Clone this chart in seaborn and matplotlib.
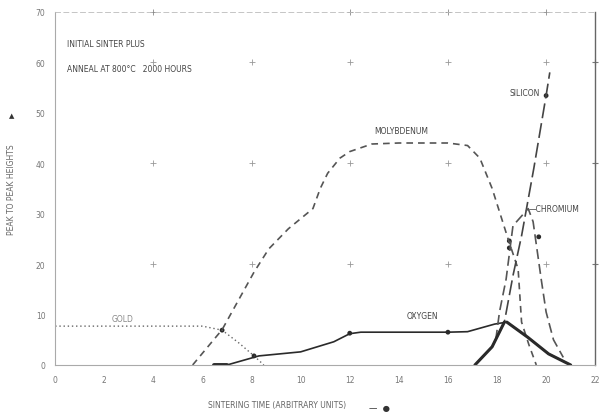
import numpy as np
import pandas as pd
import matplotlib
matplotlib.use("Agg")
import matplotlib.pyplot as plt
import seaborn as sns

# values
gold_x = [0, 2, 4, 6, 6.8, 7.5, 8.1, 8.5]
gold_y = [7.7, 7.7, 7.7, 7.7, 6.9, 4.3, 1.8, 0]

moly_x = [5.6, 6.8, 8.1, 8.7, 9.5, 9.9, 10.5, 10.8, 11.1, 11.6, 12.0, 12.9, 14, 15, 16,
          16.8, 17.3, 17.8, 18.45, 18.86, 19.0, 19.3, 19.6]
moly_y = [0, 7, 18.4, 23, 27, 28.6, 31, 35, 38, 41, 42.3, 43.8, 44, 44, 44,
          43.5, 41, 35, 25, 19, 8.5, 4, 0]

oxy_x = [6.45, 7.0, 8.3, 10, 11.35, 12.0, 12.45, 14, 16, 16.8, 17.9, 18.4, 19.25, 20.1, 21.0]
oxy_y = [0, 0, 1.8, 2.6, 4.6, 6.2, 6.5, 6.5, 6.5, 6.6, 8.1, 8.5, 5.5, 2.2, 0]

sil_x = [17.1, 17.8, 18.3, 18.65, 19.0, 19.5, 20.0, 20.15]
sil_y = [0, 3.6, 8.5, 17.7, 25.6, 39, 53.4, 58]

chrom_x = [17.95, 18.1, 18.37, 18.65, 19.27, 19.47, 19.8, 20.0, 20.3, 20.7]
chrom_y = [5, 10.5, 17, 27.6, 31, 28.4, 17, 10.5, 5, 1.5]

dots_x = [6.8, 8.1, 18.5, 18.5, 19.7, 20.0, 16, 12]
dots_y = [6.9, 1.8, 24.6, 23.2, 25.4, 53.4, 6.5, 6.3]

x_ticks = [0, 2, 4, 6, 8, 10, 12, 14, 16, 18, 20, 22]
y_ticks = [0, 10, 20, 30, 40, 50, 60, 70]

sns.set_theme(style="white")
plt.rcParams['font.family'] = ['DejaVu Sans']

fig = plt.figure(figsize=(6, 4.14), dpi=100)
ax = fig.add_axes([0.092, 0.116, 0.9, 0.853])

ink = "#2a2a2a"
sns.lineplot(x=gold_x, y=gold_y, ax=ax, color="#666666", lw=1.0, sort=False)
ax.lines[-1].set_dashes((1, 2))
sns.lineplot(x=moly_x, y=moly_y, ax=ax, color="#555555", lw=1.2, sort=False)
ax.lines[-1].set_dashes((4, 3))
sns.lineplot(x=oxy_x, y=oxy_y, ax=ax, color=ink, lw=1.2, sort=False)
sns.lineplot(x=sil_x, y=sil_y, ax=ax, color="#444444", lw=1.2, sort=False)
ax.lines[-1].set_dashes((9, 3))
sns.lineplot(x=chrom_x, y=chrom_y, ax=ax, color="#555555", lw=1.2, sort=False)
ax.lines[-1].set_dashes((6, 3))
# thick tail of oxygen and foot of silicon
sns.lineplot(x=oxy_x[-4:], y=oxy_y[-4:], ax=ax, color=ink, lw=2.2, sort=False)
sns.lineplot(x=sil_x[:3], y=sil_y[:3], ax=ax, color=ink, lw=2.2, sort=False)
sns.lineplot(x=oxy_x[:2], y=oxy_y[:2], ax=ax, color=ink, lw=2.8, sort=False)
sns.scatterplot(x=dots_x, y=dots_y, ax=ax, color=ink, s=12, edgecolor="none")

# faint grid crosses
gx, gy = np.meshgrid([4, 8, 12, 16, 20], [20, 40, 60])
ax.scatter(gx.ravel(), gy.ravel(), marker="+", s=14, color="#999999", lw=0.6)
ax.scatter([22, 22, 22], [20, 40, 60], marker="+", s=20, color="#777777", lw=0.8, clip_on=False)
ax.scatter([4, 12, 16, 20], [70, 70, 70, 70], marker="+", s=14, color="#888888", lw=0.6, clip_on=False)

ax.set_xlim(0, 22)
ax.set_ylim(0, 70)
ax.set_xticks(x_ticks)
ax.set_yticks(y_ticks)
ax.set_xticklabels([str(t) for t in x_ticks], fontsize=5.5, color="#777777")
ax.set_yticklabels([str(t) for t in y_ticks], fontsize=5.5, color="#777777")
ax.tick_params(axis="both", length=2, width=0.6, color="#888888", pad=5)

for side in ["left", "bottom"]:
    ax.spines[side].set_color("#aaaaaa")
    ax.spines[side].set_linewidth(0.8)
ax.spines["right"].set_color("#666666")
ax.spines["right"].set_linewidth(1.0)
ax.spines["top"].set_color("#bbbbbb")
ax.spines["top"].set_linewidth(0.6)
ax.spines["top"].set_linestyle((0, (6, 4)))

ax.set_xlabel("SINTERING TIME (ARBITRARY UNITS)", fontsize=5.5, color="#666666")
ax.xaxis.set_label_coords(0.41, -0.1)
ax.set_ylabel("PEAK TO PEAK HEIGHTS", fontsize=5.5, color="#666666", labelpad=14)
fig.text(0.615, 0.008, "—  ●", fontsize=6, color="#333333")
fig.text(0.02, 0.715, "▲", fontsize=5, color="#333333", ha="center")

tk = dict(fontsize=5.5, color="#444444")
ax.text(0.5, 63.3, "INITIAL SINTER PLUS", **tk)
ax.text(0.5, 58.3, "ANNEAL AT 800°C   2000 HOURS", **tk)
ax.text(2.3, 8.7, "GOLD", fontsize=5.5, color="#888888")
ax.text(13.0, 46, "MOLYBDENUM", **tk)
ax.text(14.3, 9.3, "OXYGEN", **tk)
ax.text(18.5, 53.5, "SILICON", **tk)
ax.text(19.3, 31, "—CHROMIUM", fontsize=5.5, color="#444444", va="center")

fig.savefig("out.png", dpi=100, facecolor="white")
